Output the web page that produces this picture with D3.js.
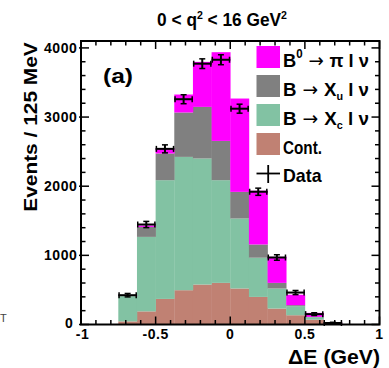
<!DOCTYPE html>
<html>
<head>
<meta charset="utf-8">
<script src="https://cdn.jsdelivr.net/npm/d3@7/dist/d3.min.js"></script>
<style>
  html, body { margin: 0; padding: 0; background: #fff; }
  svg { display: block; }
  text { font-family: "Liberation Sans", Arial, Helvetica, sans-serif; font-weight: bold; fill: #000; }
  .arrow { font-family: "DejaVu Sans", sans-serif; font-weight: normal; }
</style>
</head>
<body>
<svg id="chart" width="389" height="368"></svg>
<script>
// ΔE distribution, 125 MeV bins, stacked fit components with data points
const binEdges   = [-0.75, -0.625, -0.5, -0.375, -0.25, -0.125, 0, 0.125, 0.25, 0.375, 0.5, 0.625, 0.75];
const contValues = [45, 190, 370, 496, 578, 602, 521, 399, 231, 134, 70, 10];
const xcValues   = [365, 1077, 1717, 1928, 1823, 1485, 1012, 567, 290, 131, 35, 5];
const xuValues   = [5, 144, 386, 642, 746, 568, 385, 191, 81, 15, 5, 2];
const piValues   = [10, 20, 72, 260, 651, 1283, 1350, 778, 376, 150, 58, 8];
const dataValues = [424, 1446, 2540, 3258, 3772, 3829, 3121, 1920, 969, 462, 150, 22];
const dataErrors = [25, 45, 58, 65, 70, 72, 65, 52, 40, 30, 20, 10];
const xTicks = [-1, -0.5, 0, 0.5, 1];
const xTickLabels = ["-1", "-0.5", "0", "0.5", "1"];
const yTicks = [0, 1000, 2000, 3000, 4000];

const keys = ["cont", "xc", "xu", "pi"];
const colors = { cont: "#c08173", xc: "#82c2a3", xu: "#808080", pi: "#ff00ff" };

const rows = binEdges.slice(0, -1).map((lo, i) => ({
  lo, hi: binEdges[i + 1],
  cont: contValues[i], xc: xcValues[i], xu: xuValues[i], pi: piValues[i],
  data: dataValues[i], err: dataErrors[i]
}));

const svg = d3.select("#chart");
const x = d3.scaleLinear().domain([-1, 1]).range([81, 379.5]);
const y = d3.scaleLinear().domain([0, 4100]).range([324.5, 41]);

// stacked histogram
const stacked = d3.stack().keys(keys)(rows);
svg.append("g").selectAll("g").data(stacked).join("g")
  .attr("fill", s => colors[s.key])
  .selectAll("rect").data(s => s).join("rect")
  .attr("x", d => x(d.data.lo))
  .attr("width", d => x(d.data.hi) - x(d.data.lo) + 0.3)
  .attr("y", d => y(d[1]))
  .attr("height", d => Math.max(0, y(d[0]) - y(d[1])));

// data points with error bars
const pts = svg.append("g").attr("stroke", "#000").attr("fill", "none");
rows.forEach(r => {
  const cx = x((r.lo + r.hi) / 2), cy = y(r.data);
  const x0 = x(r.lo), x1 = x(r.hi);
  const yt = y(r.data + r.err), yb = y(r.data - r.err);
  pts.append("line").attr("x1", x0).attr("x2", x1).attr("y1", cy).attr("y2", cy).attr("stroke-width", 2);
  pts.append("line").attr("x1", cx).attr("x2", cx).attr("y1", yt).attr("y2", yb).attr("stroke-width", 2);
  [x0 + 0.75, x1 - 0.75].forEach(ex => pts.append("line").attr("x1", ex).attr("x2", ex)
    .attr("y1", cy - 3).attr("y2", cy + 3).attr("stroke-width", 1.5));
  [yt, yb].forEach(ey => pts.append("line").attr("x1", cx - 3).attr("x2", cx + 3)
    .attr("y1", ey).attr("y2", ey).attr("stroke-width", 1.5));
});

// frame
const [xl, xr] = x.range(), [yb0, yt0] = y.range();
svg.append("rect").attr("x", xl).attr("y", yt0).attr("width", xr - xl).attr("height", yb0 - yt0)
  .attr("fill", "none").attr("stroke", "#000").attr("stroke-width", 2);

// ticks on all four sides, pointing inward
const tk = svg.append("g").attr("stroke", "#000").attr("stroke-width", 1.5);
d3.range(-10, 11).map(v => v / 10).forEach(v => {
  const major = Math.abs(v * 2 - Math.round(v * 2)) < 1e-6;
  const len = major ? 8 : 4.5;
  tk.append("line").attr("x1", x(v)).attr("x2", x(v)).attr("y1", yb0).attr("y2", yb0 - len);
  tk.append("line").attr("x1", x(v)).attr("x2", x(v)).attr("y1", yt0).attr("y2", yt0 + len);
});
d3.range(0, 4101, 200).forEach(v => {
  const major = v % 1000 === 0;
  const len = major ? 8 : 4.5;
  tk.append("line").attr("x1", xl - (major ? 2 : 0)).attr("x2", xl + len).attr("y1", y(v)).attr("y2", y(v));
  tk.append("line").attr("x1", xr).attr("x2", xr - len).attr("y1", y(v)).attr("y2", y(v));
});

// tick labels (the zero label is nudged left so it clears the "-1" below it)
svg.append("g").selectAll("text").data(yTicks).join("text")
  .attr("x", d => d === 0 ? 73.5 : 77.5).attr("y", d => y(d) + (d === 0 ? 3.5 : 5)).attr("text-anchor", "end")
  .attr("font-size", 14).attr("letter-spacing", 0.6).text(d => d);
svg.append("g").selectAll("text").data(xTicks).join("text")
  .attr("x", d => x(d) + (d === -1 ? 1.5 : 0)).attr("y", 339).attr("text-anchor", "middle")
  .attr("font-size", 14).attr("letter-spacing", 0.5).text((d, i) => xTickLabels[i]);

// text placed at (px,py), optionally rotated, squeezed or stretched to a given width
function label(px, py, anchor, size, width, build, rot) {
  const g = svg.append("g").attr("transform", `translate(${px},${py})` + (rot ? ` rotate(${rot})` : ""));
  const t = g.append("text").attr("text-anchor", anchor).attr("font-size", size);
  build(t);
  if (width) {
    const w = t.node().getBBox().width;
    t.attr("transform", `scale(${width / w},1)`);
  }
  return t;
}

// title
label(222, 25.5, "middle", 18, 130, t => {
  t.append("tspan").text("0 < q");
  t.append("tspan").attr("font-size", 11).attr("dy", -7).text("2");
  t.append("tspan").attr("dy", 7).text(" < 16 GeV");
  t.append("tspan").attr("font-size", 11).attr("dy", -7).text("2");
});

// axis titles
label(36.5, 127, "middle", 19, 170, t => t.text("Events / 125 MeV"), -90);
label(380, 363.5, "end", 20, 92, t => t.text("ΔE (GeV)"));

// panel tag
label(103, 83, "start", 21, 30, t => t.text("(a)"));

// stray fragment at the left margin
svg.append("text").attr("x", 0).attr("y", 322).attr("font-size", 11)
  .style("font-weight", "normal").style("fill", "#444").text("T");

// legend
const arrow = t => t.append("tspan").attr("class", "arrow").text(" → ");
const legend = [
  { key: "pi", y: 46, base: 67, build: t => {
      t.append("tspan").text("B");
      t.append("tspan").attr("font-size", 12).attr("dy", -9).text("0");
      arrow(t).attr("dy", 9);
      t.append("tspan").text("π l ν");
  }},
  { key: "xu", y: 75, base: 96, build: t => {
      t.append("tspan").text("B");
      arrow(t);
      t.append("tspan").text("X");
      t.append("tspan").attr("font-size", 11).attr("dy", 4).text("u");
      t.append("tspan").attr("dy", -4).text(" l ν");
  }},
  { key: "xc", y: 104, base: 125, build: t => {
      t.append("tspan").text("B");
      arrow(t);
      t.append("tspan").text("X");
      t.append("tspan").attr("font-size", 11).attr("dy", 4).text("c");
      t.append("tspan").attr("dy", -4).text(" l ν");
  }},
  { key: "cont", y: 133, base: 153.5, build: t => t.text("Cont.") }
];
const legendW = { pi: 86, xu: 86, xc: 86, cont: 39 };
legend.forEach(l => {
  svg.append("rect").attr("x", 256.5).attr("y", l.y).attr("width", 23.5).attr("height", 22)
    .attr("fill", colors[l.key]);
  label(283, l.base, "start", 19, legendW[l.key], l.build);
});
svg.append("line").attr("x1", 256.5).attr("x2", 280).attr("y1", 173.5).attr("y2", 173.5)
  .attr("stroke", "#000").attr("stroke-width", 1.8);
svg.append("line").attr("x1", 268.2).attr("x2", 268.2).attr("y1", 165).attr("y2", 183)
  .attr("stroke", "#000").attr("stroke-width", 1.8);
label(283, 181.5, "start", 19, 39, t => t.text("Data"));
</script>
</body>
</html>
